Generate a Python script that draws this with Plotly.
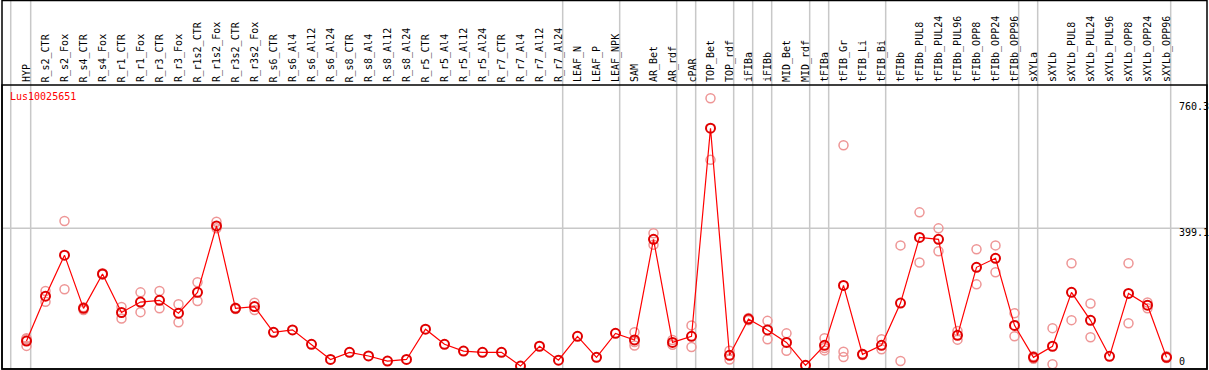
import plotly.graph_objects as go

categories = ["HYP", "R_s2_CTR", "R_s2_Fox", "R_s4_CTR", "R_s4_Fox", "R_r1_CTR", "R_r1_Fox",
              "R_r3_CTR", "R_r3_Fox", "R_r1s2_CTR", "R_r1s2_Fox", "R_r3s2_CTR", "R_r3s2_Fox",
              "R_s6_CTR", "R_s6_Al4", "R_s6_Al12", "R_s6_Al24", "R_s8_CTR", "R_s8_Al4",
              "R_s8_Al12", "R_s8_Al24", "R_r5_CTR", "R_r5_Al4", "R_r5_Al12", "R_r5_Al24",
              "R_r7_CTR", "R_r7_Al4", "R_r7_Al12", "R_r7_Al24", "LEAF_N", "LEAF_P", "LEAF_NPK",
              "SAM", "AR_Bet", "AR_rdf", "cPAR", "TOP_Bet", "TOP_rdf", "iFIBa", "iFIBb",
              "MID_Bet", "MID_rdf", "tFIBa", "tFIB_Gr", "tFIB_Li", "tFIB_Bi", "tFIBb",
              "tFIBb_PUL8", "tFIBb_PUL24", "tFIBb_PUL96", "tFIBb_OPP8", "tFIBb_OPP24",
              "tFIBb_OPP96", "sXYLa", "sXYLb", "sXYLb_PUL8", "sXYLb_PUL24", "sXYLb_PUL96",
              "sXYLb_OPP8", "sXYLb_OPP24", "sXYLb_OPP96"]

mean_values = [75, 204, 322, 169, 268, 157, 187, 192, 155, 215, 406, 169, 174,
               100, 107, 65.5, 22, 42.5, 32, 17.5, 22, 109, 65.5, 46, 42.5,
               42.5, 3, 60, 20, 88.5, 28, 97,
               78, 367.5, 71, 88.5, 687, 34, 138, 107, 71, 5, 62.6, 235, 36.7, 62.6, 184,
               373, 367.5, 91.5, 287, 313, 120, 28, 60, 215, 134.6, 31, 212, 178, 28]

replicates = [[83, 61, 80], [219, 188], [420, 224], [172, 164], [270, 266], [173, 140],
              [215, 158], [219, 169], [181, 129], [244, 190], [418, 399], [171, 167],
              [185, 164], [], [], [], [], [], [], [], [], [], [], [], [], [], [], [], [],
              [], [], [], [100, 62, 72], [385, 352], [78, 64], [120, 58], [773, 596],
              [47, 22], [141, 135], [133, 80], [97, 47], [], [83, 48, 55], [638, 44, 29],
              [38, 35], [80, 51], [350, 17.5], [445, 301], [399, 333], [104, 79],
              [339, 238], [350, 273], [155, 88.5], [31, 24], [112, 8], [298.5, 135],
              [183, 86], [], [298.5, 126], [186, 169], [31, 26]]

gene_name = "Lus10025651"
y_tick_values = [760.3, 399.1, 0]
y_tick_labels = ["760.3", "399.1", "0"]
group_boundaries = [-0.83, 0.22, 28.22, 31.22, 34.22, 35.22, 37.22, 38.22, 39.22,
                    41.22, 42.22, 45.22, 52.22, 53.22, 60.22]

W, H = 1209, 370
ML, MR, MT, MB = 2, 2, 85, 1
PH = H - MT - MB
PW = W - ML - MR

xs = list(range(len(categories)))
rep_x, rep_y = [], []
for i, reps in enumerate(replicates):
    for v in reps:
        rep_x.append(i)
        rep_y.append(v)

fig = go.Figure()
fig.add_trace(go.Scatter(
    x=rep_x, y=rep_y, mode="markers",
    marker=dict(symbol="circle-open", size=9, color="rgb(238,150,150)", line=dict(width=1.5)),
    hoverinfo="skip", showlegend=False))
fig.add_trace(go.Scatter(
    x=xs, y=mean_values, mode="lines+markers",
    line=dict(color="#ff0000", width=1.2),
    marker=dict(symbol="circle-open", size=9, color="#e00000", line=dict(width=2)),
    showlegend=False))

shapes = []
top_paper = 1 + MT / PH
for gx in group_boundaries:
    shapes.append(dict(type="line", xref="x", yref="paper", x0=gx, x1=gx, y0=0, y1=top_paper,
                       line=dict(color="#c8c8c8", width=1.5), layer="below"))
shapes.append(dict(type="line", xref="paper", yref="y", x0=0, x1=1, y0=399.1, y1=399.1,
                   line=dict(color="#c8c8c8", width=1.5), layer="below"))
# frames
shapes.append(dict(type="rect", xref="paper", yref="paper", x0=0, x1=1, y0=0, y1=1,
                   line=dict(color="black", width=1.5)))
shapes.append(dict(type="rect", xref="paper", yref="paper", x0=0, x1=1, y0=0,
                   y1=1 + (MT - 0.5) / PH, line=dict(color="black", width=1.5)))

annotations = []
for i, c in enumerate(categories):
    annotations.append(dict(x=i, xref="x", y=1 + 1.5 / PH, yref="paper", text=c,
                            textangle=-90, showarrow=False, xanchor="center", yanchor="bottom",
                            font=dict(family="DejaVu Sans Mono", size=10, color="black"),
                            borderpad=0))
annotations.append(dict(x=(8 - ML) / PW, xref="paper", y=1 - (96.7 - MT) / PH, yref="paper",
                        text=gene_name, showarrow=False, xanchor="left", yanchor="middle",
                        font=dict(family="DejaVu Sans Mono", size=10, color="#ff0000")))
label_px = [106.7, 232.3, 361.7]
for v, t, py in zip(y_tick_values, y_tick_labels, label_px):
    annotations.append(dict(x=(1177 - ML) / PW, xref="paper", y=1 - (py - MT) / PH, yref="paper",
                            text=t, showarrow=False, xanchor="left", yanchor="middle",
                            font=dict(family="DejaVu Sans Mono", size=10, color="black")))

fig.update_layout(
    width=W, height=H, margin=dict(l=ML, r=MR, t=MT, b=MB),
    paper_bgcolor="white", plot_bgcolor="white",
    xaxis=dict(range=[(ML - 26.5) / 19, (W - MR - 26.5) / 19], showgrid=False, zeroline=False,
               showticklabels=False, ticks="", fixedrange=True),
    yaxis=dict(range=[(367.1 - (H - MB)) / 0.3477, (367.1 - MT) / 0.3477], showgrid=False,
               zeroline=False, showticklabels=False, ticks="", fixedrange=True),
    shapes=shapes, annotations=annotations, showlegend=False)

fig.write_html("out.html", config={"displayModeBar": False},
               post_script="document.body.style.margin='0';document.body.style.overflow='hidden';")
